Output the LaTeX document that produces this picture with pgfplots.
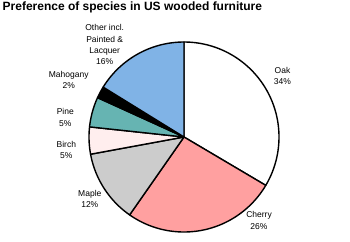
\documentclass[border=0pt]{standalone}
\usepackage{pgfplots}
\pgfplotsset{compat=1.18}
\usepackage{fontspec}
\setmainfont{Liberation Sans}
\definecolor{oakc}{HTML}{FFFFFF}
\definecolor{cherryc}{HTML}{FFA0A0}
\definecolor{maplec}{HTML}{CCCCCC}
\definecolor{birchc}{HTML}{FFEEEE}
\definecolor{pinec}{HTML}{66B4B2}
\definecolor{mahogc}{HTML}{000000}
\definecolor{otherc}{HTML}{80B3E6}
% shares in percent (clockwise from 12 o'clock)
\def\vOak{33.5}
\def\vCherry{26.2}
\def\vMaple{12.4}
\def\vBirch{4.6}
\def\vPine{5.1}
\def\vMahog{2.0}
\def\vOther{16.2}
\pgfmathsetmacro\aA{90}
\pgfmathsetmacro\aB{\aA-3.6*\vOak}
\pgfmathsetmacro\aC{\aB-3.6*\vCherry}
\pgfmathsetmacro\aD{\aC-3.6*\vMaple}
\pgfmathsetmacro\aE{\aD-3.6*\vBirch}
\pgfmathsetmacro\aF{\aE-3.6*\vPine}
\pgfmathsetmacro\aG{\aF-3.6*\vMahog}
\pgfmathsetmacro\aH{\aG-3.6*\vOther}
\begin{document}
\begin{tikzpicture}
\begin{axis}[
  width=350pt, height=241pt, scale only axis,
  xmin=0, xmax=350, ymin=0, ymax=241, y dir=reverse,
  hide axis, clip=false,
  every axis plot/.append style={draw=black, line width=1.4pt, line join=round, samples=90, variable=\t},
]
\path (axis cs:0,0) rectangle (axis cs:350,241);
\addplot[fill=oakc, domain=\aB:\aA] ({184+95*cos(\t)}, {137-95*sin(\t)}) -- (axis cs:184,137) -- cycle;
\addplot[fill=cherryc, domain=\aC:\aB] ({184+95*cos(\t)}, {137-95*sin(\t)}) -- (axis cs:184,137) -- cycle;
\addplot[fill=maplec, domain=\aD:\aC] ({184+95*cos(\t)}, {137-95*sin(\t)}) -- (axis cs:184,137) -- cycle;
\addplot[fill=birchc, domain=\aE:\aD] ({184+95*cos(\t)}, {137-95*sin(\t)}) -- (axis cs:184,137) -- cycle;
\addplot[fill=pinec, domain=\aF:\aE] ({184+95*cos(\t)}, {137-95*sin(\t)}) -- (axis cs:184,137) -- cycle;
\addplot[fill=mahogc, domain=\aG:\aF] ({184+95*cos(\t)}, {137-95*sin(\t)}) -- (axis cs:184,137) -- cycle;
\addplot[fill=otherc, domain=\aH:\aG] ({184+95*cos(\t)}, {137-95*sin(\t)}) -- (axis cs:184,137) -- cycle;
\node[anchor=base west, inner sep=0pt, font=\fontsize{12}{14}\selectfont\bfseries] at (axis cs:2.5,10.3) {Preference of species in US wooded furniture};
\begin{scope}[every node/.style={align=center, inner sep=0pt, font=\fontsize{8.5}{11.3}\selectfont}]
\node at (axis cs:104.7,44.7) {Other incl.\\Painted \&\\Lacquer\\16\%};
\node at (axis cs:68.7,80) {Mahogany\\2\%};
\node at (axis cs:65.3,117.5) {Pine\\5\%};
\node at (axis cs:66.3,150.2) {Birch\\5\%};
\node at (axis cs:89.8,198.7) {Maple\\12\%};
\node at (axis cs:259,220.4) {Cherry\\26\%};
\node at (axis cs:282.5,75.8) {Oak\\34\%};
\end{scope}
\end{axis}
\end{tikzpicture}
\end{document}
